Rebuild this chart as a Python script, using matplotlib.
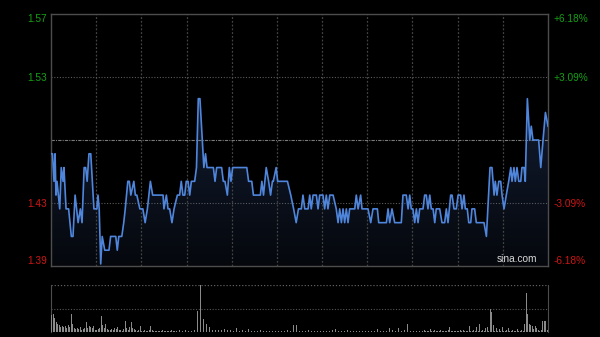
import matplotlib
matplotlib.use('Agg')
import matplotlib.pyplot as plt
import numpy as np

# 昨收 & 百分比刻度
prev_close = 1.48
pct_levels = [6.18, 3.09, -3.09, -6.18]

# 分时价格（分钟, 价格），9:30-12:00 + 13:00-16:00 共330分钟
price_min = [
    0, 1, 2, 2.7, 3.3, 4, 5.8, 6.8, 8, 8.6, 10, 11.7, 13.5, 14.6, 16, 18, 19.5, 20.6,
    22, 23, 24, 25.2, 26.4, 28.5, 30.5, 31.2, 32, 33, 34, 35.7, 38.5, 39.6, 43, 44,
    45, 47, 48.3, 49.3, 51, 52, 53, 55, 56, 57, 59, 61, 62.5, 64, 66, 67.5, 74.4, 75,
    76.6, 77.7, 78.8, 80.3, 81.7, 83.9, 85.4, 86.5, 87.6, 88.8, 89.8, 91, 92.1, 93.2,
    95.4, 96.6, 97.8, 98.9, 101.5, 102.6, 103.6, 107.8, 108.9, 110, 113.3, 114.4,
    115.5, 117.1, 118.4, 119.5, 120.6, 130, 131.2, 133.3, 134.4, 139, 140, 141.1,
    142.9, 144.5, 145.8, 147, 147.6, 149.5, 150.5, 157, 159.2, 161.1, 162.8, 164.3,
    166.2, 167.3, 168.5, 170.7, 171.8, 172.8, 174, 176.2, 177.3, 178.4, 180.6, 181.7,
    182.8, 183.9, 185.1, 187.3, 189.4, 190.6, 191.7, 192.8, 193.9, 195, 196.1, 197.2,
    198.3, 201.7, 202.7, 203.9, 205.6, 206.5, 210.5, 212.3, 213.8, 216.7, 217.6,
    222.7, 223.8, 224.9, 226.4, 228.2, 232.6, 233.7, 235.9, 237.1, 238.2, 239.2,
    240.3, 241.5, 242.6, 243.7, 244.8, 247, 248.1, 249.2, 250.3, 251.5, 252.5, 253.7,
    254.8, 255.8, 258.1, 259.6, 261.4, 262.5, 263.6, 265.4, 266.3, 267.6, 269.1,
    270.3, 272, 272.9, 274.2, 275.1, 276.4, 277.4, 278.7, 279.5, 281.3, 282.4, 287.5,
    289.1, 291.5, 292.8, 294.2, 295, 296.1, 297.3, 298.6, 299.5, 300.8, 302.3, 303.9,
    305.3, 306.1, 307.4, 308.3, 309.4, 310.6, 311.9, 312.7, 314.1, 314.9, 316.3,
    317.9, 318.9, 320, 323.8, 325.2, 326.7, 328.3, 330,
]
price_val = [
    1.47, 1.47, 1.45, 1.47, 1.44, 1.45, 1.43, 1.46, 1.45, 1.46, 1.43, 1.43, 1.41, 1.41, 1.44, 1.42, 1.43, 1.42,
    1.46, 1.46, 1.45, 1.47, 1.47, 1.43, 1.43, 1.44, 1.43, 1.39, 1.41, 1.40, 1.40, 1.41, 1.41, 1.40,
    1.41, 1.41, 1.42, 1.43, 1.45, 1.45, 1.44, 1.45, 1.44, 1.44, 1.43, 1.43, 1.42, 1.43, 1.45, 1.44, 1.44, 1.43,
    1.44, 1.43, 1.43, 1.42, 1.43, 1.44, 1.44, 1.45, 1.44, 1.44, 1.45, 1.45, 1.44, 1.45,
    1.45, 1.46, 1.51, 1.51, 1.46, 1.47, 1.46, 1.46, 1.45, 1.46, 1.46, 1.45,
    1.45, 1.44, 1.46, 1.45, 1.46, 1.46, 1.45, 1.45, 1.44, 1.44, 1.45, 1.44,
    1.46, 1.45, 1.44, 1.45, 1.45, 1.46, 1.45, 1.45, 1.44, 1.43, 1.42, 1.43,
    1.43, 1.44, 1.43, 1.43, 1.44, 1.43, 1.44, 1.44, 1.43, 1.44, 1.44, 1.43,
    1.44, 1.43, 1.44, 1.44, 1.43, 1.42, 1.43, 1.42, 1.43, 1.42, 1.43, 1.42,
    1.43, 1.43, 1.44, 1.43, 1.44, 1.43, 1.43, 1.42, 1.43, 1.43, 1.42,
    1.42, 1.43, 1.42, 1.43, 1.42, 1.42, 1.44, 1.44, 1.43, 1.44, 1.43,
    1.43, 1.42, 1.43, 1.42, 1.43, 1.43, 1.44, 1.44, 1.43, 1.44, 1.43, 1.43,
    1.42, 1.43, 1.43, 1.42, 1.42, 1.43, 1.42, 1.44, 1.44, 1.43, 1.43,
    1.44, 1.44, 1.43, 1.44, 1.43, 1.43, 1.42, 1.42, 1.43, 1.43, 1.42, 1.42,
    1.41, 1.46, 1.46, 1.44, 1.45, 1.44, 1.45, 1.45, 1.44, 1.43, 1.44, 1.45,
    1.46, 1.45, 1.46, 1.45, 1.46, 1.45, 1.45, 1.46, 1.46, 1.45, 1.51,
    1.48, 1.49, 1.48, 1.48, 1.46, 1.48, 1.50, 1.49,
]

# 成交量（每分钟，相对值，最大=100）
volume = [
    36, 38, 30, 22, 18, 15, 10, 13, 10, 12, 8, 14, 10, 38, 18, 8, 6, 8, 7, 10, 5, 6, 8, 22, 9, 12, 10, 8, 12, 5,
    4, 6, 8, 33, 15, 9, 17, 6, 5, 4, 6, 5, 8, 6, 10, 5, 4, 3, 6, 23, 8, 5, 10, 21, 8, 6, 4, 3, 5, 13,
    3, 2, 4, 3, 2, 5, 13, 4, 3, 2, 3, 2, 3, 2, 4, 3, 2, 3, 2, 3, 4, 2, 3, 2, 3, 4, 2, 3, 2, 4,
    7, 3, 2, 3, 4, 5, 8, 45, 65, 100, 30, 27, 15, 18, 29, 10, 8, 5, 6, 4, 3, 5, 3, 4, 3, 6, 23, 4, 3, 5,
    3, 2, 4, 8, 3, 3, 2, 4, 3, 2, 3, 6, 2, 3, 4, 3, 2, 3, 2, 4, 3, 2, 8, 3, 3, 2, 4, 3, 2, 3,
    3, 2, 4, 3, 2, 3, 2, 4, 3, 2, 3, 15, 18, 14, 3, 2, 4, 3, 8, 2, 3, 4, 2, 3, 2, 3, 4, 2, 3, 2,
    3, 2, 4, 3, 2, 3, 2, 4, 3, 6, 3, 2, 4, 3, 2, 3, 13, 4, 3, 2, 3, 2, 4, 3, 2, 3, 4, 2, 3, 2,
    3, 2, 4, 3, 2, 3, 2, 6, 3, 2, 4, 3, 9, 2, 3, 8, 2, 4, 8, 3, 2, 8, 3, 2, 15, 4, 3, 17, 10, 3,
    2, 3, 4, 2, 3, 2, 4, 3, 4, 3, 2, 3, 6, 2, 3, 4, 2, 3, 2, 4, 3, 2, 3, 2, 4, 11, 3, 2, 3, 2,
    3, 2, 4, 3, 4, 2, 3, 2, 13, 3, 2, 4, 3, 10, 3, 17, 2, 4, 3, 8, 10, 3, 50, 43, 15, 3, 8, 2, 6, 3,
    10, 3, 2, 4, 8, 3, 2, 4, 3, 2, 6, 3, 2, 4, 3, 18, 82, 38, 18, 15, 13, 6, 13, 8, 4, 3, 4, 23, 23, 23, 4,
]

grid_c = '#444444'
frame_c = '#4d4d4d'
green = '#14a014'
red = '#d01414'

fig = plt.figure(figsize=(6, 3.37), dpi=100, facecolor='black')
plt.rcParams['font.family'] = ['Liberation Sans', 'DejaVu Sans']

# ---- 价格面板 ----
ax = fig.add_axes([51 / 600, 1 - 266 / 337, 497 / 600, 252 / 337], facecolor='black')
ymin = prev_close * (1 - pct_levels[0] / 100)
ymax = prev_close * (1 + pct_levels[0] / 100)
ax.set_xlim(0, 330)
ax.set_ylim(ymin, ymax)

# 渐变填充
verts = [(price_min[0], ymin)] + list(zip(price_min, price_val)) + [(price_min[-1], ymin)]
poly = plt.Polygon(verts, closed=True, facecolor='none', edgecolor='none')
ax.add_patch(poly)
grad = np.linspace(1, 0, 256).reshape(-1, 1)
top_c = np.array([0.07, 0.11, 0.19])
bot_c = np.array([0.02, 0.03, 0.05])
img = bot_c + (top_c - bot_c) * grad[..., None]
im = ax.imshow(img, extent=[0, 330, ymin, 1.51], aspect='auto', origin='upper', zorder=1)
im.set_clip_path(poly)

# 网格
for m in range(30, 330, 30):
    ax.axvline(m, color=grid_c, lw=0.9, ls=(0, (1.5, 1.5)), zorder=2)
for p in [3.09, -3.09]:
    ax.axhline(prev_close * (1 + p / 100), color='#5a5a5a', lw=0.8, ls=(0, (1, 1.5)), zorder=2)
ax.axhline(prev_close, color='#7a7a7a', lw=0.8, ls=(0, (3, 1, 1, 1)), zorder=2)

ax.plot(price_min, price_val, color='#4f86dc', lw=1.2, zorder=3)

for s in ax.spines.values():
    s.set_color(frame_c)
    s.set_linewidth(1)

ax.set_xticks([])
tick_pos = [prev_close * (1 + p / 100) for p in pct_levels]
ax.set_yticks(tick_pos)
ax.set_yticklabels([f'{v:.2f}' for v in tick_pos])
ax.tick_params(axis='y', length=0, pad=3, labelsize=7.3)
for lbl, p in zip(ax.get_yticklabels(), pct_levels):
    lbl.set_color(green if p > 0 else red)
ax.get_yticklabels()[0].set_va('top')
ax.get_yticklabels()[-1].set_va('bottom')

ax2 = ax.twinx()
ax2.set_ylim(ymin, ymax)
ax2.set_yticks(tick_pos)
ax2.set_yticklabels([f'{p:+.2f}%' for p in pct_levels])
ax2.tick_params(axis='y', length=0, pad=4, labelsize=7.3)
for lbl, p in zip(ax2.get_yticklabels(), pct_levels):
    lbl.set_color(green if p > 0 else red)
ax2.get_yticklabels()[0].set_va('top')
ax2.get_yticklabels()[-1].set_va('bottom')
for s in ax2.spines.values():
    s.set_visible(False)

ax.text(0.978, 0.008, 'sina.com', transform=ax.transAxes, ha='right', va='bottom',
        color='#d8d8d8', fontsize=7.3, zorder=4)

# ---- 成交量面板 ----
axv = fig.add_axes([51 / 600, 1 - 332 / 337, 497 / 600, 47 / 337], facecolor='black')
axv.set_xlim(-0.5, 330.5)
axv.set_ylim(0, 100)
axv.bar(np.arange(len(volume)), volume, width=0.5, color='#8a8a8a', zorder=3)
axv.axhline(100, color='#606060', lw=0.9, ls=(0, (1, 1.5)), zorder=2)
axv.axhline(50, color='#555555', lw=0.8, ls=(0, (1, 1.5)), zorder=2)
axv.set_xticks([])
axv.set_yticks([])
for k, s in axv.spines.items():
    if k in ('left', 'right'):
        s.set_color(frame_c)
    else:
        s.set_visible(False)

plt.savefig('out.png', dpi=100, facecolor='black')
plt.close()
